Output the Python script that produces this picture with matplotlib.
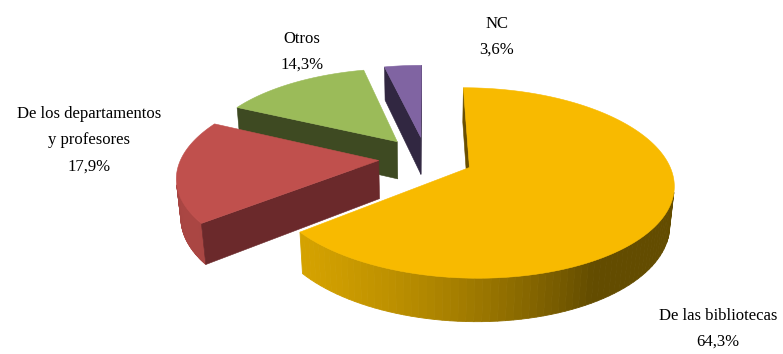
import numpy as np
import matplotlib.pyplot as plt
from matplotlib.patches import Polygon
from matplotlib.colors import to_rgb

plt.rcParams['font.family'] = ['Liberation Serif', 'DejaVu Serif']

labels = ['De las bibliotecas', 'De los departamentos\ny profesores', 'Otros', 'NC']
values = [64.3, 17.9, 14.3, 3.6]

# colours: top face, cut faces, lit rim, shaded rim
top_colors = ['#F8BA00', '#C0504D', '#9BBB59', '#8064A2']
cut_colors = ['#6A4F00', '#6B292B', '#3E4A22', '#312741']
rim_light = ['#D6A300', '#AA4643', '#7E9A45', '#6A5287']
rim_dark = ['#634C00', '#5E2423', '#3E4A22', '#312741']

# label anchor points (pixels)
label_pos = [(718, 329), (89, 140), (302, 52), (497, 37)]

# 3D view settings
phi = np.radians(27)
dist = 5.56
focal = 1098
cx, cy = 426, 158
thick = 0.22
explode = 0.24
cam = np.array([0.03, -dist * np.cos(phi), dist * np.sin(phi)])


def project(p):
    x, y, z = p
    depth = dist + y * np.cos(phi) - z * np.sin(phi)
    return (cx + focal * x / depth,
            cy - focal * (y * np.sin(phi) + z * np.cos(phi)) / depth)


def unit(a):
    r = np.radians(a)
    return np.array([np.cos(r), np.sin(r), 0.0])


def mix(c1, c2, t):
    c1, c2 = np.array(to_rgb(c1)), np.array(to_rgb(c2))
    return tuple(c2 + (c1 - c2) * t)


fig = plt.figure(figsize=(7.83, 3.54), dpi=100)
ax = fig.add_axes([0, 0, 1, 1])
ax.set_xlim(0, 783)
ax.set_ylim(354, 0)
ax.axis('off')

total = sum(values)
slices = []
start = 90.0
for i, v in enumerate(values):
    th1 = start
    th2 = start - v / total * 360
    start = th2
    mid = (th1 + th2) / 2
    center = explode * unit(mid)
    slices.append((i, th1, th2, center))

down = np.array([0, 0, -thick])

# back slices first
for i, th1, th2, c in sorted(slices, key=lambda s: -s[3][1]):
    # outer rim, split into strips for the shading
    angs = np.linspace(th1, th2, 120)
    for a0, a1 in zip(angs[:-1], angs[1:]):
        am = (a0 + a1) / 2
        n = unit(am)
        if np.dot(n, cam - (c + n)) <= 0:
            continue
        shade = max(0.0, np.cos(np.radians(am + 150)))
        col = mix(rim_light[i], rim_dark[i], shade)
        pts = [project(c + unit(a0)), project(c + unit(a1)),
               project(c + unit(a1) + down), project(c + unit(a0) + down)]
        ax.add_patch(Polygon(pts, closed=True, fc=col, ec=col, lw=0.6))

    # radial cut faces
    for edge, nang in ((th1, th1 + 90), (th2, th2 - 90)):
        n = unit(nang)
        if np.dot(n, cam - c) <= 0:
            continue
        pts = [project(c), project(c + unit(edge)),
               project(c + unit(edge) + down), project(c + down)]
        ax.add_patch(Polygon(pts, closed=True, fc=cut_colors[i],
                             ec=cut_colors[i], lw=0.4))

    # top face
    arc = [project(c + unit(a)) for a in np.linspace(th1, th2, 200)]
    ax.add_patch(Polygon([project(c)] + arc, closed=True, fc=top_colors[i],
                         ec=top_colors[i], lw=0.4))

for lab, v, (x, y) in zip(labels, values, label_pos):
    txt = lab + '\n' + f'{v:.1f}'.replace('.', ',') + '%'
    ax.text(x, y, txt, ha='center', va='center', fontsize=12,
            linespacing=1.85, color='black')

fig.savefig('out.png', dpi=100)
